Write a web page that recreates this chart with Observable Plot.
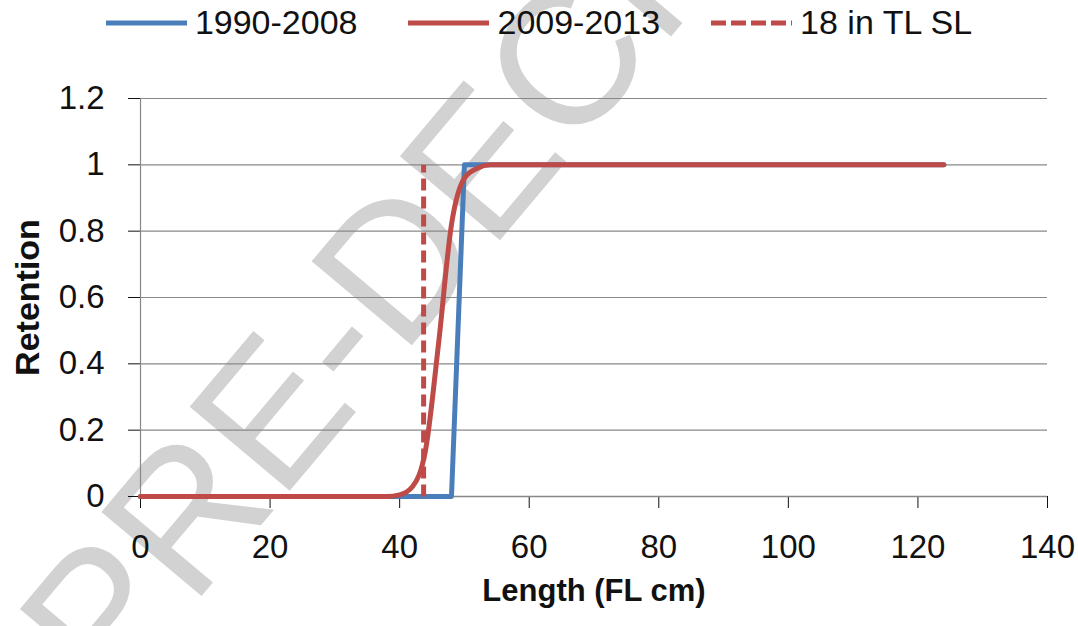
<!DOCTYPE html>
<html>
<head>
<meta charset="utf-8">
<script src="https://cdn.jsdelivr.net/npm/d3@7"></script>
<script src="https://cdn.jsdelivr.net/npm/@observablehq/plot@0.6"></script>
<style>
  html, body { margin: 0; padding: 0; background: #fff; }
  #page { position: relative; width: 1078px; height: 626px; overflow: hidden; font-family: "Liberation Sans", Arial, sans-serif; }
  #watermark { position: absolute; left: 0; top: 0; z-index: 0; }
  #legend { position: relative; z-index: 1; height: 45px; display: flex; align-items: center; justify-content: center; gap: 51px; font-size: 34px; color: #111; }
  #legend .item { display: flex; align-items: center; }
  #legend svg { margin-right: 8px; }
  #chart { position: relative; z-index: 1; }
</style>
</head>
<body>
<div id="page">
  <svg id="watermark" width="1078" height="626">
    <text transform="translate(110,705) rotate(-50)" font-family="Liberation Sans, Arial, sans-serif" font-size="190" fill="#d2d2d2">PRE-DECISIONAL</text>
  </svg>
  <div id="legend"></div>
  <div id="chart"></div>
</div>
<script>
// Retention at length (fork length, cm) for the two periods
const seriesNames = ["1990-2008", "2009-2013"];
const lengthA = [0, 46, 48, 50, 52, 124];
const retentionA = [0, 0, 0, 1, 1, 1];
const lengthB = [0, 38, 40, 42, 44, 46, 48, 50, 52, 54, 124];
const retentionB = [0, 0, 0.005, 0.03, 0.14, 0.46, 0.82, 0.96, 0.99, 1, 1];

// 18 inch total-length size limit expressed in fork length
const limitName = "18 in TL SL";
const limitLength = 43.7;
const limitRetention = [0, 1];

const xTicks = [0, 20, 40, 60, 80, 100, 120, 140];
const yTicks = [0, 0.2, 0.4, 0.6, 0.8, 1, 1.2];

const colors = {"1990-2008": "#4a7ebb", "2009-2013": "#be4b48", "18 in TL SL": "#be4b48"};

const dataA = lengthA.map((x, i) => ({length: x, retention: retentionA[i]}));
const dataB = lengthB.map((x, i) => ({length: x, retention: retentionB[i]}));
const dataLimit = limitRetention.map(r => ({length: limitLength, retention: r}));

// legend row
const legend = document.getElementById("legend");
[...seriesNames, limitName].forEach(name => {
  const item = document.createElement("div");
  item.className = "item";
  const dashed = name === limitName;
  item.innerHTML = `<svg width="81" height="8"><line x1="0" x2="81" y1="4" y2="4" stroke="${colors[name]}" stroke-width="5" ${dashed ? 'stroke-dasharray="15,5"' : ""}/></svg><span>${name}</span>`;
  legend.appendChild(item);
});

const chart = Plot.plot({
  width: 1078,
  height: 581,
  marginLeft: 140,
  marginRight: 31,
  marginTop: 53,
  marginBottom: 130,
  style: {background: "transparent", fontFamily: "'Liberation Sans', Arial, sans-serif", fontSize: "33px", color: "#111"},
  x: {domain: [0, 140], ticks: xTicks, tickSize: 12, tickPadding: 26, tickFormat: d => String(d), label: null},
  y: {domain: [0, 1.2], ticks: yTicks, tickSize: 12, tickPadding: 24, tickFormat: d => String(d), label: null},
  marks: [
    Plot.ruleY(yTicks, {stroke: "#888", strokeWidth: 1.2}),
    Plot.ruleX([0], {stroke: "#888", strokeWidth: 1.2}),
    Plot.ruleY([0], {stroke: "#888", strokeWidth: 1.5}),
    Plot.line(dataA, {x: "length", y: "retention", stroke: colors["1990-2008"], strokeWidth: 5}),
    Plot.line(dataB, {x: "length", y: "retention", stroke: colors["2009-2013"], strokeWidth: 5, curve: "monotone-x"}),
    Plot.line(dataLimit, {x: "length", y: "retention", stroke: colors[limitName], strokeWidth: 5, strokeDasharray: "12,6", strokeLinecap: "butt"}),
    Plot.text(["Retention"], {frameAnchor: "left", textAnchor: "middle", dx: -112, rotate: -90, fontWeight: "bold", fontSize: 34, fill: "#111"}),
    Plot.text(["Length (FL cm)"], {frameAnchor: "bottom", dy: 104, fontWeight: "bold", fontSize: 31, fill: "#111"})
  ]
});
document.getElementById("chart").appendChild(chart);
</script>
</body>
</html>
